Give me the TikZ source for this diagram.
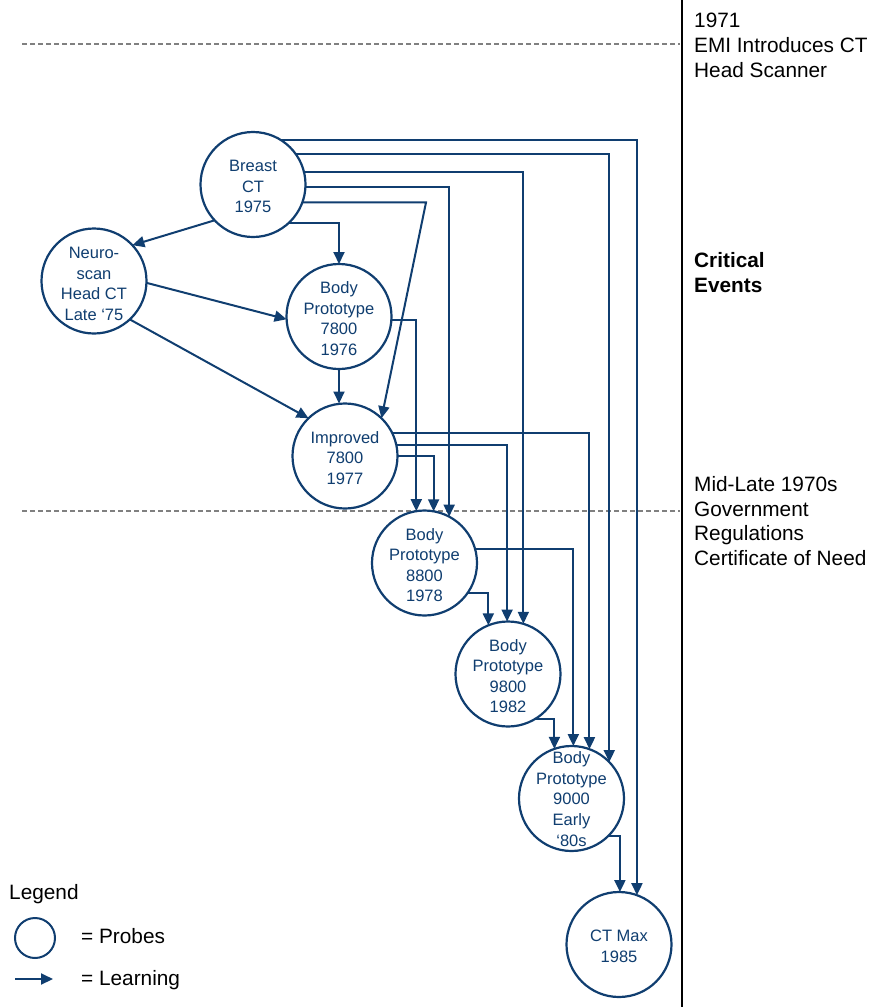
\documentclass[tikz,border=0pt]{standalone}
\usepackage{fontspec}
\setmainfont{Liberation Sans}
\usetikzlibrary{arrows.meta}
\definecolor{navy}{RGB}{16,62,112}
\definecolor{dashgray}{RGB}{128,128,128}
\begin{document}
\begin{tikzpicture}[x=1pt,y=-1pt,
 probe/.style={circle,draw=navy,line width=2.2pt,fill=white,minimum size=105pt,inner sep=0pt,outer sep=0pt},
 ptext/.style={text=navy,align=center,font=\fontsize{16.5}{20.6}\selectfont,inner sep=0pt,yshift=-2pt},
 learn/.style={draw=navy,line width=2pt,-{Triangle[length=12pt,width=11pt]}},
 note/.style={anchor=base west,inner sep=0pt,font=\fontsize{20.8}{25}\selectfont},
 divider/.style={draw=dashgray,line width=1.5pt,dash pattern=on 5pt off 3pt}]
\useasboundingbox (0,0) rectangle (872,1007);
% dividers
\coordinate (d1a) at (22,44);
\coordinate (d1b) at (680,44);
\coordinate (d2a) at (22,511);
\coordinate (d2b) at (680,511);
\draw[divider] (d1a) -- (d1b);
\draw[divider] (d2a) -- (d2b);
\coordinate (v1) at (682,0);
\coordinate (v2) at (682,1007);
\draw[black,line width=2pt] (v1) -- (v2);
% probes
\node[probe] (bct) at (253,184.5) {};
\node[probe] (ns)  at (94,281) {};
\node[probe] (b78) at (339,316.5) {};
\node[probe] (imp) at (345,456) {};
\node[probe] (b88) at (424.5,563) {};
\node[probe] (b98) at (508,674) {};
\node[probe] (b90) at (571.5,798.5) {};
\node[probe] (ctm) at (619,944.5) {};
\node[ptext] (bctT) at (bct) {Breast\\CT\\1975};
\node[ptext,yshift=-1pt] (nsT)  at (ns) {Neuro-\\scan\\Head CT\\Late ‘75};
\node[ptext] (b78T) at (b78) {Body\\Prototype\\7800\\1976};
\node[ptext] (impT) at (imp) {Improved\\7800\\1977};
\node[ptext] (b88T) at (b88) {Body\\Prototype\\8800\\1978};
\node[ptext] (b98T) at (b98) {Body\\Prototype\\9800\\1982};
\node[ptext,yshift=1.5pt] (b90T) at (b90) {Body\\Prototype\\9000\\Early\\‘80s};
\node[ptext] (ctmT) at (ctm) {CT Max\\1985};
% learning connectors
\coordinate (bend) at (426,0);
\draw[learn] (bct.223) -- (ns.43);
\draw[learn] (bct.-47) -| (b78.north);
\draw[learn] (bct.-20) -- (bct.-20 -| bend) -- (imp.46);
\draw[learn] (bct.-3) -| (b88.62);
\draw[learn] (bct.14) -| (b98.73);
\draw[learn] (bct.35.5) -| (b90.44);
\draw[learn] (bct.58) -| (ctm.70);
\draw[learn] (ns.-2) -- (b78.183);
\draw[learn] (ns.-47) -- (imp.134);
\draw[learn] (b78.south) -- (b78.south |- imp.north);
\draw[learn] (b78.-4) -| (b88.99);
\draw[learn] (imp.east) -| (b88.80);
\draw[learn] (imp.12) -| (b98.91);
\draw[learn] (imp.26) -| (b90.70.5);
\draw[learn] (b88.-35.5) -| (b98.112);
\draw[learn] (b88.16.6) -| (b90.88.4);
\draw[learn] (b98.-58.5) -| (b90.109.5);
\draw[learn] (b90.-45) -| (ctm.89);
% right notes
\node[note] (n1) at (694,27) {1971};
\node[note] (n2) at (694,52) {EMI Introduces CT};
\node[note] (n3) at (694,77) {Head Scanner};
\node[note,font=\fontsize{20.8}{25}\selectfont\bfseries] (n4) at (694,267) {Critical};
\node[note,font=\fontsize{20.8}{25}\selectfont\bfseries] (n5) at (694,292.5) {Events};
\node[note] (n6) at (694,491.5) {Mid-Late 1970s};
\node[note] (n7) at (694,516) {Government};
\node[note] (n8) at (694,540.5) {Regulations};
\node[note] (n9) at (694,565) {Certificate of Need};
% legend
\node[note] (lg) at (9,899) {Legend};
\node[circle,draw=navy,line width=2pt,minimum size=40pt,inner sep=0pt] (lc) at (35,938) {};
\node[note] (lp) at (81,943) {= Probes};
\coordinate (la1) at (15,979);
\coordinate (la2) at (53,979);
\draw[learn] (la1) -- (la2);
\node[note] (ll) at (81,985) {= Learning};
\end{tikzpicture}
\end{document}
